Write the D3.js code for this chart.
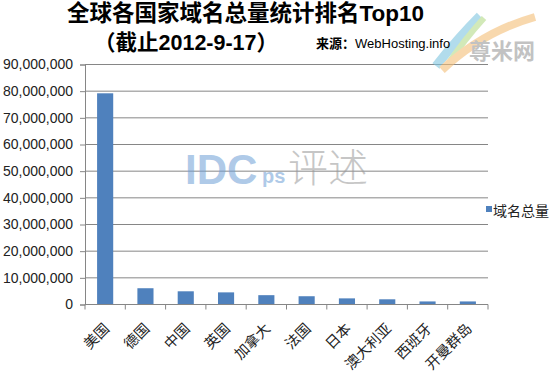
<!DOCTYPE html>
<html>
<head>
<meta charset="utf-8">
<script src="https://cdn.jsdelivr.net/npm/d3@7/dist/d3.min.js"></script>
<style>
  html, body { margin: 0; padding: 0; background: #fff; }
  svg { display: block; }
</style>
</head>
<body>
<svg id="chart"></svg>
<script>
'use strict';

// ── Data ──────────────────────────────────────────────────────────────────
const countries = ['美国', '德国', '中国', '英国', '加拿大', '法国', '日本', '澳大利亚', '西班牙', '开曼群岛'];
const domainTotals = [79200000, 6100000, 4950000, 4550000, 3500000, 3100000, 2300000, 1950000, 1150000, 1150000];
const yTicks = [0, 10000000, 20000000, 30000000, 40000000, 50000000, 60000000, 70000000, 80000000, 90000000];
const seriesName = '域名总量';

// ── Dimensions ────────────────────────────────────────────────────────────
const W = 553, H = 373;
const PLOT = { left: 85, right: 488, top: 64.5, bottom: 304.5 };
const BAR  = '#4f81bd';
const GRID = '#868686';
const CJK  = '"Noto Sans CJK SC", "Noto Sans", sans-serif';
const LAT  = '"Liberation Sans", Arial, sans-serif';

const svg = d3.select('#chart').attr('width', W).attr('height', H);

const x = d3.scaleBand()
  .domain(countries)
  .range([PLOT.left, PLOT.right])
  .paddingInner(0.6)
  .paddingOuter(0.3);

const y = d3.scaleLinear()
  .domain([0, d3.max(yTicks)])
  .range([PLOT.bottom, PLOT.top]);

// ── Gridlines ─────────────────────────────────────────────────────────────
svg.append('g')
  .selectAll('line')
  .data(yTicks.filter(d => d > 0))
  .join('line')
  .attr('x1', PLOT.left).attr('x2', PLOT.right)
  .attr('y1', d => y(d)).attr('y2', d => y(d))
  .attr('stroke', GRID).attr('stroke-width', 1);

// ── Y axis ────────────────────────────────────────────────────────────────
const yAxis = d3.axisLeft(y)
  .tickValues(yTicks)
  .tickSize(5)
  .tickPadding(7)
  .tickFormat(d3.format(','));

svg.append('g')
  .attr('transform', `translate(${PLOT.left},0)`)
  .call(yAxis)
  .call(ax => ax.selectAll('path, line').attr('stroke', GRID))
  .call(ax => ax.selectAll('text')
    .attr('fill', '#222')
    .attr('font-family', LAT)
    .attr('font-size', '14px'));

// ── Bars ──────────────────────────────────────────────────────────────────
svg.append('g')
  .selectAll('rect')
  .data(countries)
  .join('rect')
  .attr('x', d => x(d))
  .attr('width', x.bandwidth())
  .attr('y', (d, i) => y(domainTotals[i]))
  .attr('height', (d, i) => y(0) - y(domainTotals[i]))
  .attr('fill', BAR);

// ── X axis (ticks at category boundaries) ─────────────────────────────────
const xg = svg.append('g');
xg.append('line')
  .attr('x1', PLOT.left).attr('x2', PLOT.right)
  .attr('y1', y(0)).attr('y2', y(0))
  .attr('stroke', GRID);

const bounds = d3.range(countries.length + 1).map(i => x.range()[0] + i * x.step());
xg.selectAll('.xtick')
  .data(bounds)
  .join('line')
  .attr('class', 'xtick')
  .attr('x1', d => d).attr('x2', d => d)
  .attr('y1', y(0)).attr('y2', y(0) + 5)
  .attr('stroke', GRID);

xg.selectAll('.xlabel')
  .data(countries)
  .join('text')
  .attr('class', 'xlabel')
  .attr('transform', d => `translate(${x(d) + x.bandwidth() / 2 + 5},${y(0) + 25}) rotate(-45)`)
  .attr('text-anchor', 'end')
  .attr('font-family', CJK)
  .attr('font-size', '14.5px')
  .attr('fill', '#222')
  .text(d => d);

// ── Legend ────────────────────────────────────────────────────────────────
svg.append('rect')
  .attr('x', 486).attr('y', 206)
  .attr('width', 6).attr('height', 6)
  .attr('fill', BAR);
svg.append('text')
  .attr('x', 493).attr('y', 216)
  .attr('font-family', CJK)
  .attr('font-size', '14px')
  .attr('fill', '#222')
  .text(seriesName);

// ── Watermarks ────────────────────────────────────────────────────────────
const wm = svg.append('g').attr('opacity', 0.55);
wm.append('text')
  .attr('x', 185).attr('y', 184)
  .attr('font-family', LAT).attr('font-weight', 'bold')
  .attr('font-size', '42px').attr('fill', '#6f9fd6')
  .text('IDC');
wm.append('text')
  .attr('x', 262).attr('y', 183)
  .attr('font-family', LAT).attr('font-weight', 'bold')
  .attr('font-size', '20px').attr('fill', '#6f9fd6')
  .text('ps');
wm.append('text')
  .attr('x', 288).attr('y', 182)
  .attr('font-family', CJK).attr('font-weight', 300)
  .attr('font-size', '40px').attr('fill', '#999')
  .text('评述');

const logo = svg.append('g').attr('opacity', 0.6);
logo.append('path')
  .attr('d', 'M436,66 Q458,38 480,16')
  .attr('stroke', '#7fc6e0').attr('stroke-width', 9).attr('fill', 'none');
logo.append('path')
  .attr('d', 'M448,64 Q464,40 484,18')
  .attr('stroke', '#b5dc8a').attr('stroke-width', 6).attr('fill', 'none');
logo.append('path')
  .attr('d', 'M442,70 Q482,32 535,17')
  .attr('stroke', '#f5bf78').attr('stroke-width', 8).attr('fill', 'none');
logo.append('text')
  .attr('x', 469).attr('y', 59)
  .attr('font-family', CJK).attr('font-weight', 'bold')
  .attr('font-size', '22px').attr('fill', '#9a9a9a')
  .text('尊米网');

// ── Titles ────────────────────────────────────────────────────────────────
const title = svg.append('text')
  .attr('x', 67).attr('y', 21)
  .attr('font-size', '22.5px').attr('font-weight', 'bold').attr('fill', '#000');
title.append('tspan').attr('font-family', CJK).text('全球各国家域名总量统计排名');
title.append('tspan').attr('font-family', LAT).text('Top10');

const sub = svg.append('text')
  .attr('x', 94).attr('y', 50)
  .attr('font-size', '21.5px').attr('font-weight', 'bold').attr('fill', '#000');
sub.append('tspan').attr('font-family', CJK).text('（截止');
sub.append('tspan').attr('font-family', LAT).text('2012-9-17');
sub.append('tspan').attr('font-family', CJK).text('）');

const src = svg.append('text')
  .attr('x', 316).attr('y', 48)
  .attr('font-size', '13px').attr('fill', '#000');
src.append('tspan').attr('font-family', CJK).attr('font-weight', 'bold').text('来源：');
src.append('tspan').attr('font-family', LAT).text('WebHosting.info');
</script>
</body>
</html>
